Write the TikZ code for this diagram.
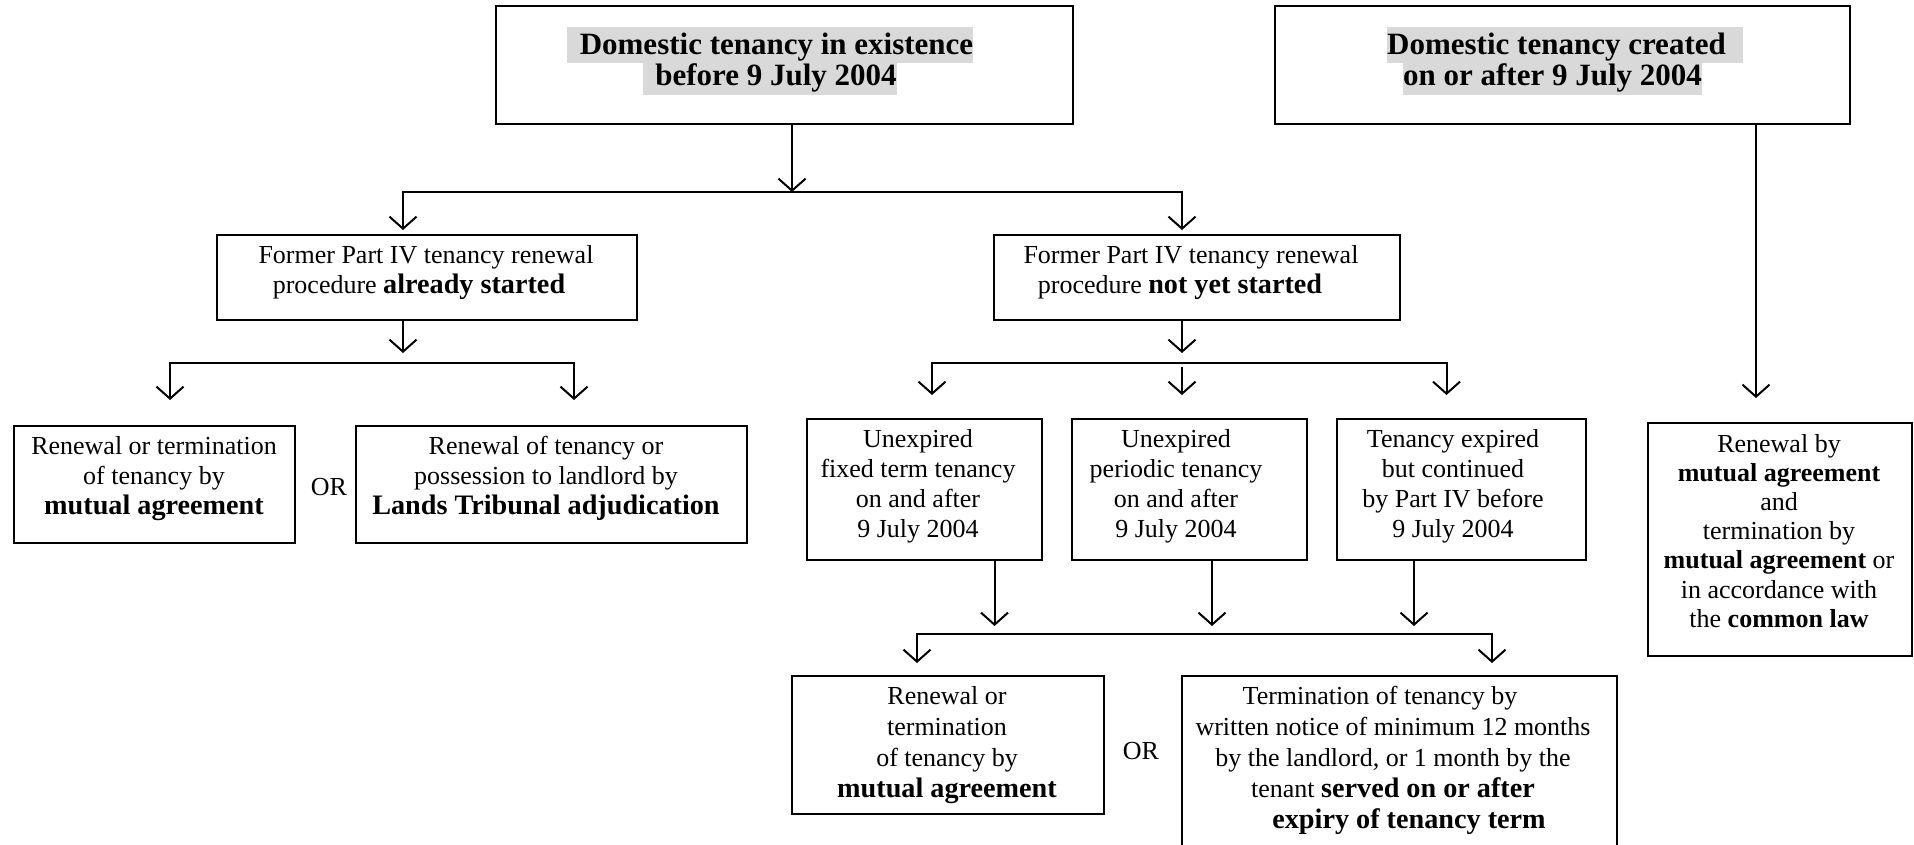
\documentclass[tikz,border=0pt]{standalone}
\usepackage{fontspec}
\setmainfont{Liberation Serif}
\usetikzlibrary{arrows.meta}
\definecolor{hl}{RGB}{217,217,217}
\setlength{\fboxsep}{0pt}
\newcommand\fs[1]{\fontsize{26}{#1}\selectfont}
\newcommand\bb[1]{{\fontsize{28.2}{30}\selectfont\bfseries #1}}
\begin{document}
\begin{tikzpicture}[x=1pt,y=-1pt,
  box/.style={draw, line width=2pt, outer sep=0pt, inner sep=0pt},
  txt/.style={inner sep=0pt, outer sep=0pt, align=center, anchor=north},
  ttl/.style={inner sep=0pt, outer sep=0pt, align=center, anchor=north, font=\fontsize{31}{31}\selectfont\bfseries},
  ln/.style={line width=2pt},
  arr/.style={line width=2pt, -{Straight Barb[length=12pt,width=27pt]}}]
\useasboundingbox (0,0) rectangle (1914,844);

% boxes
\node[box, minimum width=577pt, minimum height=118pt] (B0) at (784.5,65) {};
\node[box, minimum width=575pt, minimum height=118pt] (B1) at (1562.5,65) {};
\node[box, minimum width=420pt, minimum height=85pt] (M1) at (427,277.5) {};
\node[box, minimum width=406pt, minimum height=85pt] (M2) at (1197,277.5) {};
\node[box, minimum width=281pt, minimum height=117pt] (L1) at (154.5,484.5) {};
\node[box, minimum width=391pt, minimum height=117pt] (L2) at (551.5,484.5) {};
\node[box, minimum width=235pt, minimum height=141pt] (C1) at (924.5,489.5) {};
\node[box, minimum width=235pt, minimum height=141pt] (C2) at (1189.5,489.5) {};
\node[box, minimum width=249pt, minimum height=141pt] (C3) at (1461.5,489.5) {};
\node[box, minimum width=312pt, minimum height=138pt] (D1) at (948,745) {};
\node[box, minimum width=435pt, minimum height=174pt] (D2) at (1399.5,763) {};
\node[box, minimum width=264pt, minimum height=233pt] (RB) at (1780,539.5) {};

% texts
\node[ttl] (T0) at (770,27) {\colorbox{hl}{\rule[-9pt]{0pt}{36pt}\hspace{13pt}Domestic tenancy in existence}\\\colorbox{hl}{\rule[-10pt]{0pt}{32pt}\hspace{12pt}before 9 July 2004}};
\node[ttl] (T1) at (1559,27) {\hspace*{12pt}\colorbox{hl}{\rule[-9pt]{0pt}{36pt}Domestic tenancy created\hspace{17pt}}\\\colorbox{hl}{\rule[-10pt]{0pt}{32pt}on or after 9 July 2004}\hspace*{13pt}};
\node[txt, font=\fs{30.5}] (tM1) at (422.5,241.7) {\hspace*{7pt}\strut Former Part IV tenancy renewal\\\strut procedure \bb{already started}\hspace*{7pt}};
\node[txt, font=\fs{30.5}] (tM2) at (1186,241.7) {\hspace*{10pt}\strut Former Part IV tenancy renewal\\\strut procedure \bb{not yet started}\hspace*{12pt}};
\node[txt, font=\fs{30}] (tL1) at (154,433) {\strut Renewal or termination\\\strut of tenancy by\\\strut\bb{mutual agreement}};
\node[txt, font=\fs{30}] (tL2) at (546,433) {\strut Renewal of tenancy or\\\strut possession to landlord by\\\strut\bb{Lands Tribunal adjudication}};
\node[font=\fs{30}, inner sep=0pt] (or1) at (329,487) {OR};
\node[txt, font=\fs{30.3}] (tC1) at (918,425.8) {\strut Unexpired\\\strut fixed term tenancy\\\strut on and after\\\strut 9 July 2004};
\node[txt, font=\fs{30.3}] (tC2) at (1176,425.8) {\strut Unexpired\\\strut periodic tenancy\\\strut on and after\\\strut 9 July 2004};
\node[txt, font=\fs{30.3}] (tC3) at (1453,425.8) {\strut Tenancy expired\\\strut but continued\\\strut by Part IV before\\\strut 9 July 2004};
\node[txt, font=\fs{31}] (tD1) at (947,682.3) {\strut Renewal or\\\strut termination\\\strut of tenancy by\\\strut\bb{mutual agreement}};
\node[font=\fs{30}, inner sep=0pt] (or2) at (1141,751) {OR};
\node[txt, font=\fs{31}] (tD2) at (1393,682.3) {\strut Termination of tenancy by\hspace*{26pt}\\\strut written notice of minimum 12 months\\\strut by the landlord, or 1 month by the\hspace*{10pt}\\\strut tenant \bb{served on or after}\\\hspace*{32pt}\strut\bb{expiry of tenancy term}};
\node[txt, font=\fs{29.2}] (tRB) at (1779,431.6) {\strut Renewal by\\\strut\textbf{mutual agreement}\\\strut and\\\strut termination by\\\strut\textbf{mutual agreement} or\\\strut in accordance with\\\strut the \textbf{common law}};

% connector coordinates
\coordinate (j0) at (792,192);
\coordinate (j0L) at (403,192);
\coordinate (j0R) at (1182,192);
\coordinate (k1) at (403,363);
\coordinate (k1L) at (170,363);
\coordinate (k1R) at (574,363);
\coordinate (k2) at (1182,363);
\coordinate (k2L) at (932,363);
\coordinate (k2R) at (1446.5,363);
\coordinate (a1) at (994.5,634);
\coordinate (a2) at (1212,634);
\coordinate (a3) at (1414,634);
\coordinate (k3L) at (917,634);
\coordinate (k3R) at (1492,634);
\coordinate (r0) at (1756,398);

% level 1
\draw[arr] (j0 |- B0.south) -- (j0);
\draw[arr] (j0) -- (j0L) -- ([yshift=5pt]j0L |- M1.north);
\draw[arr] (j0) -- (j0R) -- ([yshift=5pt]j0R |- M2.north);
% left branch
\draw[arr] (k1 |- M1.south) -- ([yshift=10pt]k1);
\draw[arr] (k1) -- (k1L) -- ([yshift=26pt]k1L |- L1.north);
\draw[arr] (k1) -- (k1R) -- ([yshift=26pt]k1R |- L2.north);
% middle branch
\draw[arr] (k2 |- M2.south) -- ([yshift=10pt]k2);
\draw[arr] (k2) -- (k2L) -- ([yshift=24pt]k2L |- C1.north);
\draw[arr] (k2) -- (k2R) -- ([yshift=24pt]k2R |- C3.north);
\draw[arr] ([yshift=-4pt]k2) -- ([yshift=24pt]k2 |- C2.north);
% lower bar
\draw[arr] (a1 |- C1.south) -- ([yshift=8pt]a1);
\draw[arr] (a2 |- C2.south) -- ([yshift=8pt]a2);
\draw[arr] (a3 |- C3.south) -- ([yshift=8pt]a3);
\draw[arr] (a2) -- (k3L) -- ([yshift=13pt]k3L |- D1.north);
\draw[arr] (a2) -- (k3R) -- ([yshift=13pt]k3R |- D2.north);
% right column
\draw[arr] (r0 |- B1.south) -- (r0);
\end{tikzpicture}
\end{document}
